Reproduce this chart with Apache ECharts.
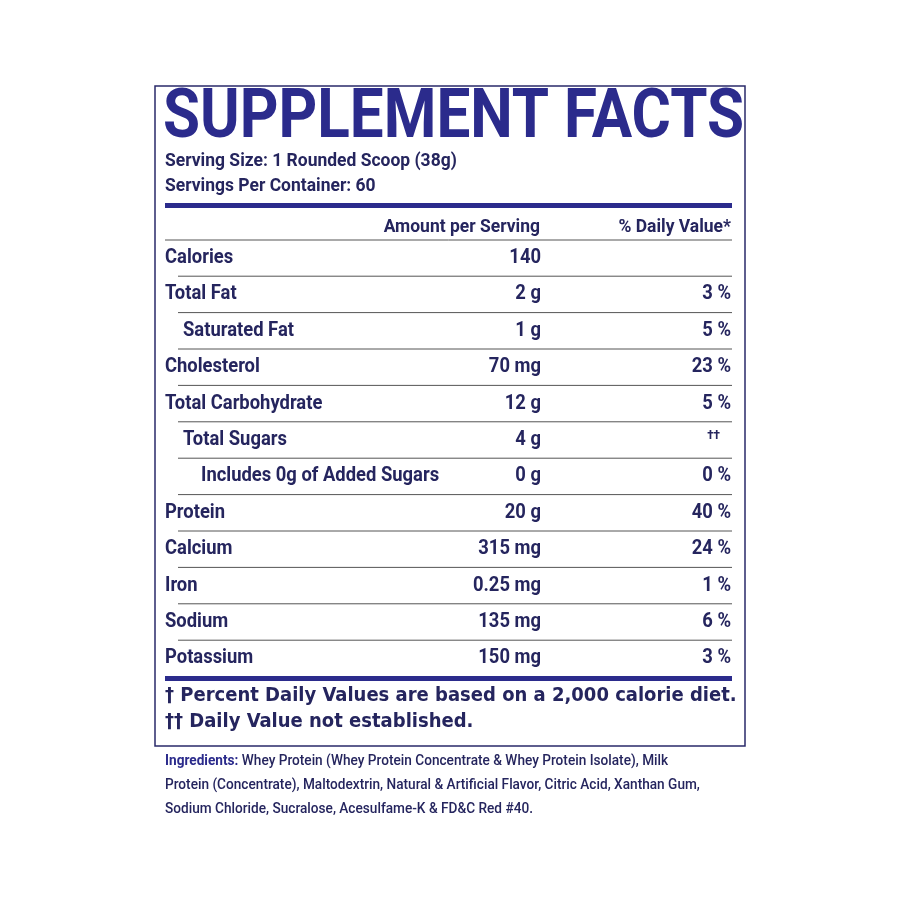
<!DOCTYPE html>
<html>
<head>
<meta charset="utf-8">
<script src="https://cdn.jsdelivr.net/npm/echarts@6/dist/echarts.min.js"></script>
<style>html,body{margin:0;background:#fff}#main{width:900px;height:900px}</style>
</head>
<body>
<div id="main"></div>
<script>
// 营养成分表数据
var nutrients = ['Calories', 'Total Fat', 'Saturated Fat', 'Cholesterol', 'Total Carbohydrate', 'Total Sugars',
  'Includes 0g of Added Sugars', 'Protein', 'Calcium', 'Iron', 'Sodium', 'Potassium'];
var indents = [0, 0, 1, 0, 0, 1, 2, 0, 0, 0, 0, 0];
var amounts = ['140', '2 g', '1 g', '70 mg', '12 g', '4 g', '0 g', '20 g', '315 mg', '0.25 mg', '135 mg', '150 mg'];
var dailyValues = ['', '3 %', '5 %', '23 %', '5 %', '††', '0 %', '40 %', '24 %', '1 %', '6 %', '3 %'];
var ingredients = [
  'Whey Protein (Whey Protein Concentrate & Whey Protein Isolate), Milk',
  'Protein (Concentrate), Maltodextrin, Natural & Artificial Flavor, Citric Acid, Xanthan Gum,',
  'Sodium Chloride, Sucralose, Acesulfame-K & FD&C Red #40.'
];

var myChart = echarts.init(document.getElementById('main'));
var navy = '#2b2b8c', ink = '#25255e';
var narrow = '"Roboto", sans-serif';
var g = [];

function txt(x, y, text, size, align, extra) {
  var s = {x: 0, y: 0, text: text, fill: ink, font: 'bold ' + size + 'px ' + narrow, align: align || 'left', verticalAlign: 'middle'};
  for (var k in extra) s[k] = extra[k];
  return {type: 'text', x: x, y: y, scaleX: 0.92, style: s};
}

g.push({type: 'rect', shape: {x: 155, y: 86, width: 590, height: 660}, style: {fill: 'none', stroke: '#2a2a6a', lineWidth: 1.5}});
g.push({type: 'text', x: 163, y: 120, scaleX: 0.885, style: {x: 0, y: 0, text: 'SUPPLEMENT FACTS', fill: navy, font: 'bold 68px ' + narrow, verticalAlign: 'middle'}});
g.push(txt(165, 161, 'Serving Size: 1 Rounded Scoop (38g)', 19));
g.push(txt(165, 186, 'Servings Per Container: 60', 19));
g.push({type: 'rect', shape: {x: 165, y: 203, width: 567, height: 5}, style: {fill: navy}});
g.push(txt(540, 227, 'Amount per Serving', 19, 'right'));
g.push(txt(731, 227, '% Daily Value*', 19, 'right'));
g.push({type: 'line', shape: {x1: 165, y1: 240, x2: 732, y2: 240}, style: {stroke: '#555', lineWidth: 1}});

var y0 = 258, dy = 36.4;
nutrients.forEach(function (name, i) {
  var y = y0 + i * dy;
  var dd = dailyValues[i] === '††';
  g.push(txt(165 + indents[i] * 18, y, name, 20));
  g.push(txt(541, y, amounts[i], 20, 'right'));
  g.push(txt(dd ? 720 : 731, dd ? y - 4 : y, dailyValues[i], dd ? 13 : 20, 'right'));
  if (i < nutrients.length - 1) {
    g.push({type: 'line', shape: {x1: 178, y1: y + dy / 2, x2: 732, y2: y + dy / 2}, style: {stroke: '#555', lineWidth: 1}});
  }
});

g.push({type: 'rect', shape: {x: 165, y: 676, width: 567, height: 5}, style: {fill: navy}});
var foot = 'bold 20px "DejaVu Sans Condensed", "DejaVu Sans", sans-serif';
g.push({type: 'text', style: {x: 165, y: 696, text: '† Percent Daily Values are based on a 2,000 calorie diet.', fill: ink, font: foot, verticalAlign: 'middle'}});
g.push({type: 'text', style: {x: 165, y: 722, text: '†† Daily Value not established.', fill: ink, font: foot, verticalAlign: 'middle'}});

ingredients.forEach(function (line, i) {
  var y = 761 + i * 24;
  var s = {x: 0, y: 0, text: line, fill: ink, font: '500 15.5px ' + narrow, verticalAlign: 'middle'};
  if (i === 0) {
    s.text = '{b|Ingredients:} ' + line;
    s.rich = {b: {fontWeight: 'bold', fill: navy, fontFamily: narrow, fontSize: 15.5}};
  }
  g.push({type: 'text', x: 165, y: y, scaleX: 0.88, style: s});
});

myChart.setOption({backgroundColor: '#fff', graphic: g});
</script>
</body>
</html>
